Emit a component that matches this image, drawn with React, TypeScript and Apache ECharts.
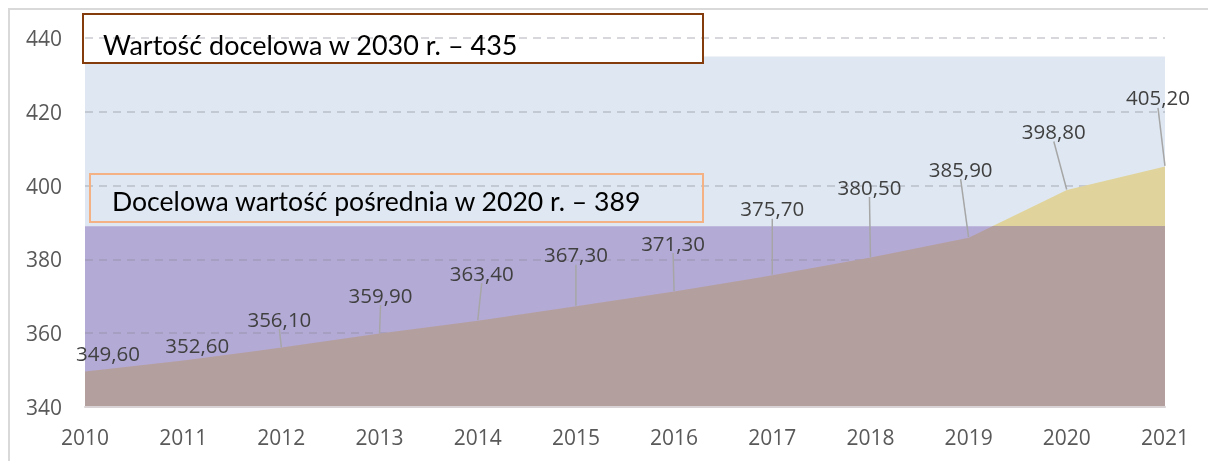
import React, { useEffect, useRef } from "react";
import * as echarts from "echarts";

const years = ["2010", "2011", "2012", "2013", "2014", "2015", "2016", "2017", "2018", "2019", "2020", "2021"];
const values = [349.6, 352.6, 356.1, 359.9, 363.4, 367.3, 371.3, 375.7, 380.5, 385.9, 398.8, 405.2];
const target2030 = 435;
const target2020 = 389;
const yMin = 340;
const yMax = 440;
const yStep = 20;
const title2030 = "Wartość docelowa w 2030 r. – 435";
const title2020 = "Docelowa wartość pośrednia w 2020 r. – 389";

// label offsets (styling, pixels)
const labelDx = [23, 14, -2, 1, 4, 0, -1, 0, -1, -8, -13, -7];
const labelDy = [-3, 0, -13, -23, -32, -36, -33, -51, -55, -53, -43, -53];
const showLeader = [false, false, true, true, true, true, true, true, true, true, true, true];

const fmt = (v: number) => v.toFixed(2).replace(".", ",");

export default function App() {
  const ref = useRef<HTMLDivElement>(null);
  useEffect(() => {
    if (!ref.current) return;
    const chart = echarts.init(ref.current, null, { renderer: "svg" });
    const splitFrac = (Math.max(...values) - target2020) / (Math.max(...values) - yMin);
    chart.setOption({
      animation: false,
      grid: { left: 85, right: 43, top: 38, bottom: 54, containLabel: false },
      xAxis: {
        type: "category",
        data: years,
        boundaryGap: false,
        axisLine: { show: true, lineStyle: { color: "#d9d3d6", width: 2 } },
        axisTick: { show: false },
        axisLabel: { color: "#595959", fontSize: 21, margin: 19, fontFamily: "Open Sans" },
        z: 4,
      },
      yAxis: {
        type: "value",
        min: yMin,
        max: yMax,
        interval: yStep,
        axisLine: { show: false },
        axisTick: { show: false },
        axisLabel: { color: "#595959", fontSize: 21, margin: 23, fontFamily: "Open Sans" },
        splitLine: { show: true, lineStyle: { color: "rgba(140,140,150,0.45)", type: [8, 6], width: 1.5 } },
        z: 2,
      },
      graphic: [
        { type: "rect", z: 0, shape: { x: 9, y: 9, width: 1400, height: 600 }, style: { fill: "none", stroke: "#d9d9d9", lineWidth: 2 } },
        { type: "rect", z: 1.5, shape: { x: 83, y: 14, width: 620, height: 49 }, style: { fill: "#ffffff" } },
        { type: "rect", z: 3, shape: { x: 83, y: 14, width: 620, height: 49 }, style: { fill: "none", stroke: "#843c0c", lineWidth: 2 } },
        { type: "text", z: 3, x: 103, y: 44, style: { text: title2030, fill: "#000000", fontSize: 27, fontFamily: "Lato", verticalAlign: "middle" } },
        { type: "rect", z: 3, shape: { x: 90, y: 174, width: 613, height: 48 }, style: { fill: "none", stroke: "#f4b183", lineWidth: 2 } },
        { type: "text", z: 3, x: 112, y: 201, style: { text: title2020, fill: "#000000", fontSize: 26.6, fontFamily: "Lato", verticalAlign: "middle" } },
      ],
      series: [
        {
          type: "line",
          z: 1,
          data: [],
          silent: true,
          markArea: {
            silent: true,
            data: [
              [
                { xAxis: years[0], yAxis: yMin, itemStyle: { color: "#dfe8f2" } },
                { xAxis: years[years.length - 1], yAxis: target2030 },
              ],
              [
                { xAxis: years[0], yAxis: yMin, itemStyle: { color: "#b4aad6" } },
                { xAxis: years[years.length - 1], yAxis: target2020 },
              ],
            ],
          },
        },
        {
          type: "line",
          z: 3,
          data: values.map((v, i) => ({ value: v, labelLine: { show: showLeader[i] } })),
          symbol: "circle",
          symbolSize: 1,
          showSymbol: true,
          itemStyle: { color: "rgba(0,0,0,0)" },
          lineStyle: { width: 0 },
          areaStyle: {
            opacity: 1,
            color: new echarts.graphic.LinearGradient(0, 0, 0, 1, [
              { offset: 0, color: "#e0d49c" },
              { offset: splitFrac, color: "#e0d49c" },
              { offset: splitFrac, color: "#b49f9f" },
              { offset: 1, color: "#b49f9f" },
            ]),
          },
          label: {
            show: true,
            position: "top",
            distance: 5,
            color: "#404040",
            fontSize: 20.5,
            fontFamily: "Open Sans",
            formatter: (p: any) => fmt(p.value),
          },
          labelLine: { show: true, lineStyle: { color: "#a6a6a6", width: 1.5 } },
          labelLayout: (p: any) => ({ dx: labelDx[p.dataIndex], dy: labelDy[p.dataIndex], hideOverlap: false }),
        },
      ],
    });
    return () => chart.dispose();
  }, []);
  return <div ref={ref} style={{ position: "fixed", left: 0, top: 0, width: 1208, height: 461 }} />;
}
